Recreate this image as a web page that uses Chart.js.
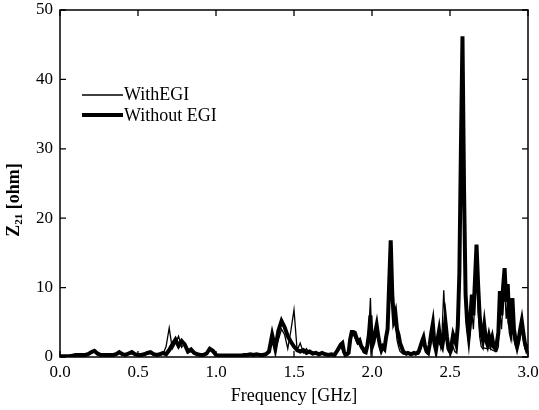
<!DOCTYPE html>
<html>
<head>
<meta charset="utf-8">
<script src="https://cdn.jsdelivr.net/npm/chart.js@4"></script>
<style>
  body { margin: 0; background: #fff; }
  canvas { display: block; }
</style>
</head>
<body>
<canvas id="z21-chart" width="539" height="410"></canvas>
<script>
// Frequency points (GHz): coarse below 1.8, finer above where the peaks are
const freq = [
  0.00, 0.02, 0.04, 0.06, 0.08, 0.10, 0.12, 0.14, 0.16, 0.18,
  0.20, 0.22, 0.24, 0.26, 0.28, 0.30, 0.32, 0.34, 0.36, 0.38,
  0.40, 0.42, 0.44, 0.46, 0.48, 0.50, 0.52, 0.54, 0.56, 0.58,
  0.60, 0.62, 0.64, 0.66, 0.68, 0.70, 0.72, 0.74, 0.76, 0.78,
  0.80, 0.82, 0.84, 0.86, 0.88, 0.90, 0.92, 0.94, 0.96, 0.98,
  1.00, 1.02, 1.04, 1.06, 1.08, 1.10, 1.12, 1.14, 1.16, 1.18,
  1.20, 1.22, 1.24, 1.26, 1.28, 1.30, 1.32, 1.34, 1.36, 1.38,
  1.40, 1.42, 1.44, 1.46, 1.48, 1.50, 1.52, 1.54, 1.56, 1.58,
  1.60, 1.62, 1.64, 1.66, 1.68, 1.70, 1.72, 1.74, 1.76, 1.78,
  1.80, 1.81, 1.82, 1.83, 1.84, 1.85, 1.86, 1.87, 1.88, 1.89,
  1.90, 1.91, 1.92, 1.93, 1.94, 1.95, 1.96, 1.97, 1.98, 1.99,
  2.00, 2.01, 2.02, 2.03, 2.04, 2.05, 2.06, 2.07, 2.08, 2.09,
  2.10, 2.11, 2.12, 2.13, 2.14, 2.15, 2.16, 2.17, 2.18, 2.19,
  2.20, 2.21, 2.22, 2.23, 2.24, 2.25, 2.26, 2.27, 2.28, 2.29,
  2.30, 2.31, 2.32, 2.33, 2.34, 2.35, 2.36, 2.37, 2.38, 2.39,
  2.40, 2.41, 2.42, 2.43, 2.44, 2.45, 2.46, 2.47, 2.48, 2.49,
  2.50, 2.51, 2.52, 2.53, 2.54, 2.55, 2.56, 2.57, 2.58, 2.59,
  2.60, 2.61, 2.62, 2.63, 2.64, 2.65, 2.66, 2.67, 2.68, 2.69,
  2.70, 2.71, 2.72, 2.73, 2.74, 2.75, 2.76, 2.77, 2.78, 2.79,
  2.80, 2.81, 2.82, 2.83, 2.84, 2.85, 2.86, 2.87, 2.88, 2.89,
  2.90, 2.91, 2.92, 2.93, 2.94, 2.95, 2.96, 2.97, 2.98, 2.99,
  3.00
];

// Z21 with EGI (thin line), ohm
const withEgi = [
  0.0, 0.0, 0.0, 0.0, 0.1, 0.2, 0.2, 0.2, 0.2, 0.3,
  0.5, 0.8, 0.3, 0.2, 0.2, 0.2, 0.2, 0.2, 0.3, 0.5,
  0.3, 0.2, 0.4, 0.5, 0.3, 0.2, 0.2, 0.3, 0.4, 0.5,
  0.3, 0.2, 0.3, 0.4, 1.5, 4.2, 1.2, 2.0, 3.0, 1.4,
  2.0, 0.6, 0.8, 0.4, 0.3, 0.2, 0.2, 0.4, 1.0, 0.6,
  0.2, 0.1, 0.1, 0.1, 0.1, 0.1, 0.1, 0.1, 0.1, 0.2,
  0.2, 0.3, 0.2, 0.3, 0.2, 0.2, 0.3, 0.6, 2.8, 1.0,
  2.5, 4.0, 3.2, 1.2, 3.8, 6.8, 1.0, 2.0, 0.6, 1.2,
  0.5, 0.4, 0.5, 0.3, 0.4, 0.3, 0.2, 0.3, 0.2, 0.8,
  1.5, 1.0, 0.4, 0.2, 0.3, 0.4, 1.8, 3.0, 3.2, 2.8,
  2.2, 1.8, 2.0, 1.2, 1.0, 0.6, 0.5, 1.4, 4.0, 8.5,
  1.2, 1.8, 3.0, 4.0, 2.5, 1.2, 0.8, 1.2, 0.9, 2.2,
  3.5, 9.5, 15.0, 7.5, 4.5, 5.0, 2.5, 1.5, 0.8, 0.6,
  0.4, 0.4, 0.3, 0.4, 0.3, 0.3, 0.3, 0.4, 0.3, 0.4,
  0.4, 1.0, 1.8, 2.4, 1.0, 0.5, 0.4, 1.2, 3.0, 4.2,
  1.5, 0.8, 2.0, 3.2, 1.5, 4.0, 9.6, 4.5, 2.5, 0.8,
  0.5, 0.6, 1.5, 0.8, 0.6, 3.5, 10.0, 25.0, 40.0, 20.0,
  7.0, 3.8, 2.0, 3.5, 6.5, 4.0, 8.5, 13.5, 7.0, 3.0,
  1.5, 1.2, 1.3, 1.2, 1.2, 1.3, 1.2, 1.0, 0.9, 0.8,
  0.8, 1.5, 6.5, 4.0, 8.0, 10.5, 5.5, 8.0, 3.5, 2.5,
  6.0, 2.5, 1.5, 1.0, 1.8, 3.0, 4.0, 2.5, 1.2, 0.8,
  1.2
];

// Z21 without EGI (thick line), ohm
const withoutEgi = [
  0.1, 0.1, 0.1, 0.1, 0.2, 0.3, 0.3, 0.3, 0.3, 0.4,
  0.7, 0.9, 0.5, 0.3, 0.3, 0.3, 0.3, 0.3, 0.4, 0.7,
  0.4, 0.3, 0.5, 0.7, 0.4, 0.3, 0.3, 0.4, 0.6, 0.7,
  0.4, 0.3, 0.4, 0.6, 0.4, 1.0, 1.8, 2.5, 1.6, 2.3,
  1.8, 0.8, 1.1, 0.6, 0.4, 0.3, 0.3, 0.5, 1.2, 0.9,
  0.3, 0.2, 0.2, 0.2, 0.2, 0.2, 0.2, 0.2, 0.2, 0.3,
  0.3, 0.4, 0.3, 0.4, 0.3, 0.3, 0.4, 0.8, 3.2, 1.2,
  3.8, 5.2, 4.3, 3.0, 2.2, 1.5, 1.0, 0.8, 1.0, 0.6,
  0.8, 0.5, 0.6, 0.4, 0.6, 0.4, 0.3, 0.4, 0.3, 1.0,
  1.8, 2.0, 0.8, 0.3, 0.4, 0.6, 2.5, 3.6, 3.6, 3.5,
  2.8, 2.2, 2.4, 1.6, 1.3, 0.8, 0.7, 1.6, 3.2, 6.0,
  1.5, 2.2, 3.5, 4.6, 3.0, 1.8, 1.0, 1.5, 1.2, 2.8,
  4.0, 10.5, 16.8, 9.0, 5.5, 6.3, 4.0, 3.2, 2.0, 1.4,
  0.8, 0.6, 0.5, 0.6, 0.5, 0.4, 0.5, 0.6, 0.5, 0.6,
  0.8, 1.5, 2.2, 2.8, 1.5, 0.8, 0.6, 1.8, 3.5, 4.8,
  2.0, 1.0, 2.5, 3.8, 2.0, 1.5, 3.0, 5.2, 3.0, 1.2,
  0.8, 1.8, 3.2, 2.5, 1.8, 4.5, 12.0, 30.0, 46.2, 24.0,
  9.0, 5.0, 3.0, 5.5, 9.0, 6.0, 11.0, 16.2, 10.5, 6.0,
  3.5, 2.5, 4.5, 2.5, 1.8, 3.0, 2.0, 2.8, 1.5, 1.2,
  2.0, 3.5, 9.5, 6.0, 10.0, 12.8, 8.0, 10.5, 5.0, 4.0,
  8.5, 4.0, 2.5, 1.5, 2.5, 4.0, 5.2, 3.5, 2.0, 1.2,
  1.8
];

const seriesLabels = ['WithEGI', 'Without EGI'];
const xTitle = 'Frequency [GHz]';

const serif = "'Liberation Serif', 'Times New Roman', serif";

const toPoints = vals => vals.map((v, i) => ({ x: freq[i], y: v }));

// frame, inward ticks on all sides, titles and legend
const framePlugin = {
  id: 'frame',
  afterDraw(chart) {
    const { ctx, chartArea: a, scales: { x, y } } = chart;
    ctx.save();
    ctx.strokeStyle = '#000';
    ctx.lineWidth = 1.5;
    ctx.strokeRect(a.left, a.top, a.right - a.left, a.bottom - a.top);

    ctx.lineWidth = 1.3;
    ctx.beginPath();
    x.ticks.forEach(t => {
      const px = x.getPixelForValue(t.value);
      ctx.moveTo(px, a.bottom); ctx.lineTo(px, a.bottom - 6);
      ctx.moveTo(px, a.top); ctx.lineTo(px, a.top + 6);
    });
    y.ticks.forEach(t => {
      const py = y.getPixelForValue(t.value);
      ctx.moveTo(a.left, py); ctx.lineTo(a.left + 6, py);
      ctx.moveTo(a.right, py); ctx.lineTo(a.right - 6, py);
    });
    ctx.stroke();

    // legend
    const ds = chart.data.datasets;
    ctx.fillStyle = '#000';
    ctx.font = '18px ' + serif;
    ctx.textBaseline = 'alphabetic';
    [[95, 100], [115, 121]].forEach(([ly, ty], i) => {
      ctx.lineWidth = ds[i].borderWidth;
      ctx.beginPath();
      ctx.moveTo(82, ly); ctx.lineTo(123, ly);
      ctx.stroke();
      ctx.fillText(ds[i].label, 124, ty);
    });

    // x title
    ctx.textAlign = 'center';
    ctx.font = '18px ' + serif;
    ctx.fillText(xTitle, (a.left + a.right) / 2, 401);

    // y title with subscript
    ctx.textAlign = 'left';
    const big = 'bold 18px ' + serif, small = 'bold 11px ' + serif;
    ctx.font = big; const wZ = ctx.measureText('Z').width;
    const wRest = ctx.measureText(' [ohm]').width;
    ctx.font = small; const wSub = ctx.measureText('21').width;
    const total = wZ + wSub + wRest;
    ctx.translate(19, 200);
    ctx.rotate(-Math.PI / 2);
    let cx = -total / 2;
    ctx.font = big; ctx.fillText('Z', cx, 0); cx += wZ;
    ctx.font = small; ctx.fillText('21', cx, 3); cx += wSub;
    ctx.font = big; ctx.fillText(' [ohm]', cx, 0);
    ctx.restore();
  }
};

new Chart(document.getElementById('z21-chart'), {
  type: 'line',
  data: {
    datasets: [
      {
        label: seriesLabels[0],
        data: toPoints(withEgi),
        borderColor: '#000',
        borderWidth: 1.3,
        pointRadius: 0,
        tension: 0,
        fill: false
      },
      {
        label: seriesLabels[1],
        data: toPoints(withoutEgi),
        borderColor: '#000',
        borderWidth: 4,
        pointRadius: 0,
        tension: 0,
        fill: false,
        borderJoinStyle: 'miter'
      }
    ]
  },
  options: {
    responsive: false,
    animation: false,
    layout: { padding: { top: 10, right: 11, left: 0, bottom: 0 } },
    plugins: {
      legend: { display: false },
      tooltip: { enabled: false }
    },
    scales: {
      x: {
        type: 'linear',
        min: 0,
        max: 3,
        grid: { display: false, drawTicks: false },
        border: { display: false },
        ticks: {
          stepSize: 0.5,
          padding: 5,
          color: '#000',
          font: { family: serif, size: 17 },
          callback: v => v.toFixed(1)
        },
        afterFit: s => {
          s.height = 53;
          s.paddingLeft = 0;
          s.paddingRight = 0;
        }
      },
      y: {
        min: 0,
        max: 50,
        grid: { display: false, drawTicks: false },
        border: { display: false },
        ticks: {
          stepSize: 10,
          padding: 7,
          color: '#000',
          font: { family: serif, size: 17 }
        },
        afterFit: s => {
          s.width = 60;
          s.paddingTop = 0;
          s.paddingBottom = 0;
        }
      }
    }
  },
  plugins: [framePlugin]
});
</script>
</body>
</html>
